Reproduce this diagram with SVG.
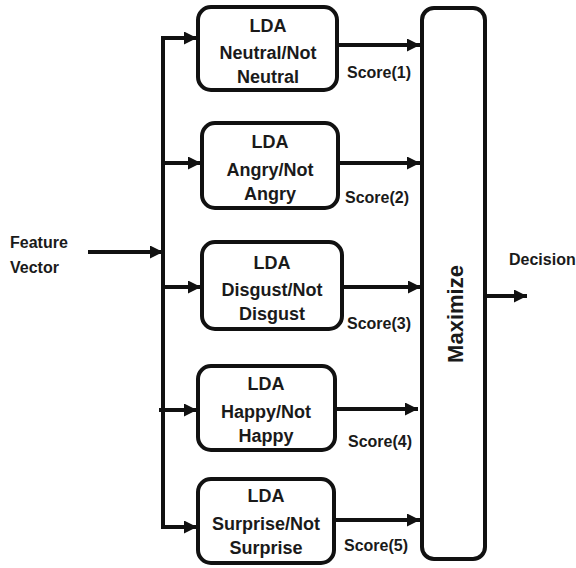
<svg xmlns="http://www.w3.org/2000/svg" width="576" height="568" viewBox="0 0 576 568">
  <style>
    .box { fill: #ffffff; stroke: #111111; stroke-width: 4; }
    .wire { fill: none; stroke: #111111; stroke-width: 4; }
    .arrow { fill: none; stroke: #111111; stroke-width: 4; marker-end: url(#head); }
    .lbl { font-family: "Liberation Sans", Arial, sans-serif; font-weight: bold; fill: #1a1a1a; }
    .box-text { font-size: 18px; text-anchor: middle; }
    .small { font-size: 16px; }
  </style>
  <defs>
    <marker id="head" viewBox="0 0 12 12" markerUnits="userSpaceOnUse" markerWidth="14" markerHeight="13" refX="12" refY="6" orient="auto">
      <path d="M0,0 L12,6 L0,12 z" fill="#111111"/>
    </marker>
  </defs>

  <!-- input label -->
  <g id="input">
    <text class="lbl small" x="10" y="248">Feature</text>
    <text class="lbl small" x="10" y="273">Vector</text>
  </g>

  <!-- connectors -->
  <g id="connectors">
    <!-- feature vector into the distribution bus -->
    <line class="arrow" x1="88" y1="252" x2="163" y2="252"/>
    <!-- vertical bus -->
    <line class="wire" x1="163" y1="36" x2="163" y2="529"/>
    <!-- bus to classifiers -->
    <line class="arrow" x1="161" y1="38" x2="197" y2="38"/>
    <line class="arrow" x1="163" y1="163" x2="201" y2="163"/>
    <line class="arrow" x1="163" y1="287" x2="201" y2="287"/>
    <line class="arrow" x1="159" y1="410" x2="197" y2="410"/>
    <line class="arrow" x1="161" y1="527" x2="197" y2="527"/>
    <!-- classifier scores into the maximizer -->
    <line class="arrow" x1="339" y1="45" x2="420" y2="45"/>
    <line class="arrow" x1="340" y1="163" x2="420" y2="163"/>
    <line class="arrow" x1="344" y1="287" x2="421" y2="287"/>
    <line class="arrow" x1="337" y1="409" x2="418" y2="409"/>
    <line class="arrow" x1="336" y1="520" x2="420" y2="520"/>
    <!-- decision output -->
    <line class="arrow" x1="487" y1="296" x2="527" y2="296"/>
  </g>

  <!-- classifiers -->
  <g id="lda-neutral">
    <rect class="box" x="198" y="7" width="139" height="83" rx="13"/>
    <text class="lbl box-text" x="268" y="32">LDA</text>
    <text class="lbl box-text" x="268" y="59">Neutral/Not</text>
    <text class="lbl box-text" x="268" y="83">Neutral</text>
  </g>
  <g id="lda-angry">
    <rect class="box" x="202" y="123" width="136" height="85" rx="13"/>
    <text class="lbl box-text" x="270" y="148">LDA</text>
    <text class="lbl box-text" x="270" y="176">Angry/Not</text>
    <text class="lbl box-text" x="270" y="200">Angry</text>
  </g>
  <g id="lda-disgust">
    <rect class="box" x="202" y="242" width="140" height="87" rx="13"/>
    <text class="lbl box-text" x="272" y="269">LDA</text>
    <text class="lbl box-text" x="272" y="296">Disgust/Not</text>
    <text class="lbl box-text" x="272" y="320">Disgust</text>
  </g>
  <g id="lda-happy">
    <rect class="box" x="198" y="366" width="137" height="84" rx="13"/>
    <text class="lbl box-text" x="266" y="390">LDA</text>
    <text class="lbl box-text" x="266" y="418">Happy/Not</text>
    <text class="lbl box-text" x="266" y="442">Happy</text>
  </g>
  <g id="lda-surprise">
    <rect class="box" x="198" y="479" width="136" height="84" rx="13"/>
    <text class="lbl box-text" x="266" y="502">LDA</text>
    <text class="lbl box-text" x="266" y="530">Surprise/Not</text>
    <text class="lbl box-text" x="266" y="554">Surprise</text>
  </g>

  <!-- score labels -->
  <g id="scores">
    <text class="lbl small" x="347" y="78">Score(1)</text>
    <text class="lbl small" x="345" y="203">Score(2)</text>
    <text class="lbl small" x="347" y="329">Score(3)</text>
    <text class="lbl small" x="348" y="447">Score(4)</text>
    <text class="lbl small" x="344" y="551">Score(5)</text>
  </g>

  <!-- maximizer -->
  <g id="maximize">
    <rect class="box" x="422" y="8" width="63" height="551" rx="12"/>
    <text class="lbl" font-size="22" text-anchor="middle" transform="translate(463,314) rotate(-90)">Maximize</text>
  </g>

  <!-- output label -->
  <g id="decision">
    <text class="lbl small" x="509" y="265">Decision</text>
  </g>
</svg>
